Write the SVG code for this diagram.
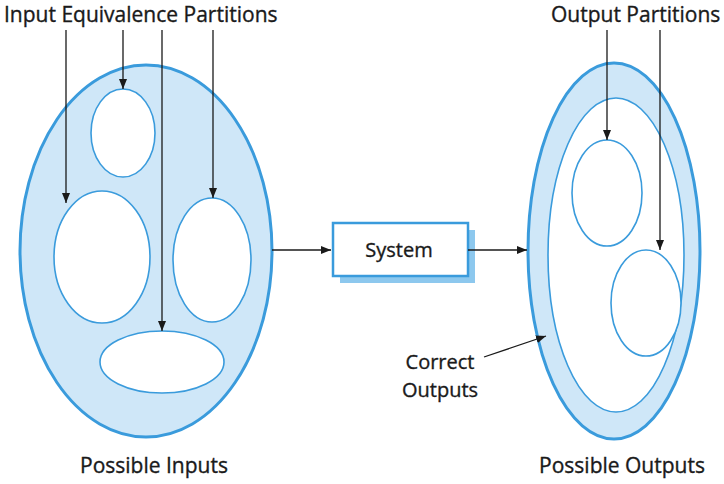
<svg xmlns="http://www.w3.org/2000/svg" width="724" height="484" viewBox="0 0 724 484">
<defs>
<marker id="ah" viewBox="0 0 10 10" refX="10" refY="5" markerWidth="10" markerHeight="10" markerUnits="userSpaceOnUse" orient="auto">
<path d="M0,1 L10,5 L0,9 z" fill="#1a1a1a"/>
</marker>
<style>
.big{fill:#cfe7f8;stroke:#3a9bdc;stroke-width:3}
.inner{fill:#fff;stroke:#3a9bdc;stroke-width:1.6}
.ln{stroke:#1a1a1a;stroke-width:1.3;fill:none;marker-end:url(#ah)}
text{font-family:"Open Sans","Noto Sans","Liberation Sans",sans-serif;font-size:21px;fill:#1a1a1a;stroke:#1a1a1a;stroke-width:0.35}
</style>
</defs>
<rect width="724" height="484" fill="#fff"/>
<g id="possible-inputs">
<ellipse class="big" cx="146" cy="251" rx="126" ry="186"/>
<text x="154" y="473" text-anchor="middle">Possible Inputs</text>
</g>
<g id="in-part-1"><ellipse class="inner" cx="123" cy="133" rx="32" ry="44"/></g>
<g id="in-part-2"><ellipse class="inner" cx="102" cy="257" rx="48" ry="66"/></g>
<g id="in-part-3"><ellipse class="inner" cx="212" cy="260" rx="39" ry="62"/></g>
<g id="in-part-4"><ellipse class="inner" cx="162" cy="362" rx="62" ry="31"/></g>
<g id="input-label"><text x="4" y="22">Input Equivalence Partitions</text></g>
<g id="system">
<rect x="340" y="230" width="135" height="53" fill="#8dc8ee"/>
<rect x="333" y="223" width="135" height="53" fill="#fff" stroke="#3a9bdc" stroke-width="2.5"/>
<text x="399" y="257" text-anchor="middle" style="font-size:20px">System</text>
</g>
<g id="possible-outputs">
<ellipse class="big" cx="614" cy="251" rx="86" ry="188"/>
<text x="622" y="473" text-anchor="middle">Possible Outputs</text>
</g>
<g id="correct-outputs">
<ellipse class="inner" cx="616" cy="255" rx="68" ry="157"/>
<text x="440" y="369" text-anchor="middle" style="font-size:20px">Correct</text>
<text x="440" y="397" text-anchor="middle" style="font-size:20px">Outputs</text>
</g>
<g id="out-part-1"><ellipse class="inner" cx="607" cy="193" rx="35" ry="53"/></g>
<g id="out-part-2"><ellipse class="inner" cx="646" cy="303" rx="35" ry="53"/></g>
<g id="output-label"><text x="551" y="22">Output Partitions</text></g>
<g id="connectors">
<line class="ln" x1="66" y1="30" x2="66" y2="203"/>
<line class="ln" x1="123" y1="30" x2="123" y2="89"/>
<line class="ln" x1="162" y1="30" x2="162" y2="331"/>
<line class="ln" x1="213" y1="30" x2="213" y2="198"/>
<line class="ln" x1="272" y1="250" x2="331" y2="250"/>
<line class="ln" x1="468" y1="250" x2="527" y2="250"/>
<line class="ln" x1="607" y1="30" x2="607" y2="140"/>
<line class="ln" x1="660" y1="30" x2="660" y2="250"/>
<line class="ln" x1="484" y1="357" x2="546" y2="336"/>
</g>
</svg>
